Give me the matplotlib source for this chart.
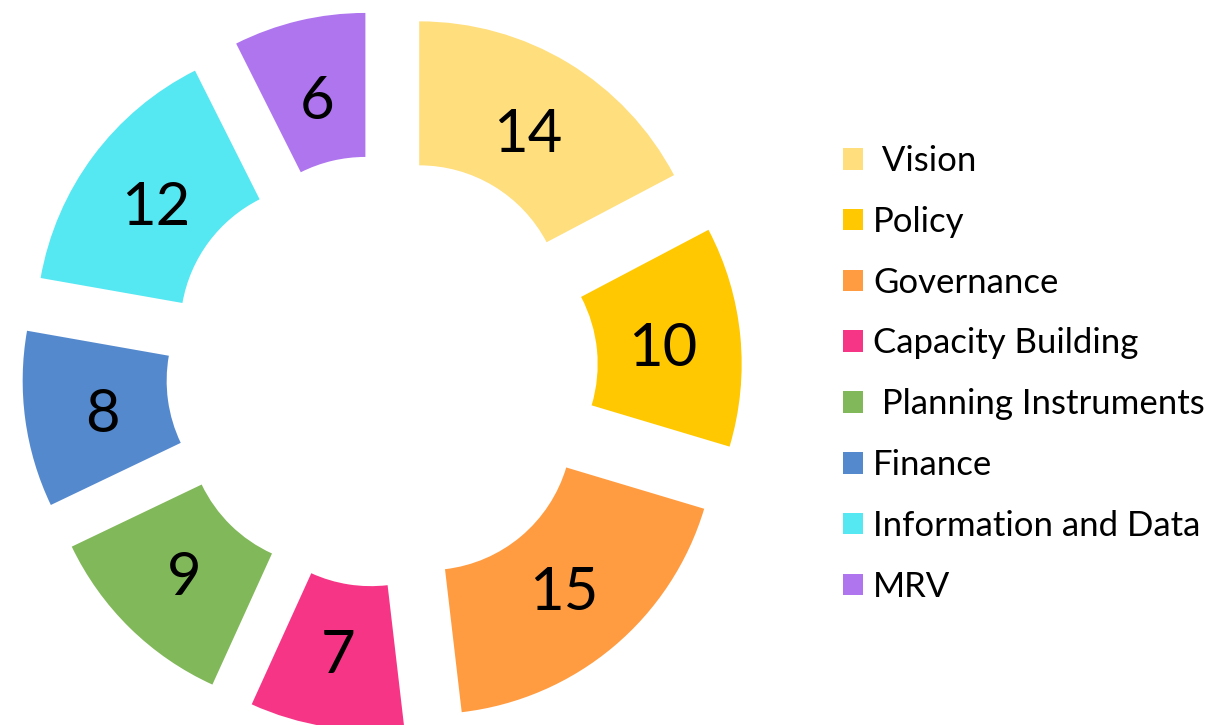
import matplotlib.pyplot as plt

# Datos del gráfico
categorias = [" Vision", "Policy", "Governance", "Capacity Building",
              " Planning Instruments", "Finance", "Information and Data", "MRV"]
valores = [14, 10, 15, 7, 9, 8, 12, 6]
colores = ["#FFDE7D", "#FFC800", "#FF9C41", "#F73586",
           "#81B85A", "#5589CE", "#55E7F2", "#AE75EF"]

plt.rcParams['font.family'] = ['Lato', 'DejaVu Sans']

W, H = 1205, 725
cx, cy, R = 382, 371, 288  # centro y radio en pixeles

fig = plt.figure(figsize=(W / 100, H / 100), dpi=100)
ax = fig.add_axes([0, 0, 1, 1])

wedges, _, textos = ax.pie(
    valores, colors=colores, startangle=90, counterclock=False,
    explode=[0.25] * len(valores), radius=1,
    wedgeprops=dict(width=0.5, linewidth=0),
    autopct=lambda p: f"{round(p * sum(valores) / 100)}",
    pctdistance=0.73, frame=True)
ax.set_xlim(-cx / R, (W - cx) / R)
ax.set_ylim((cy - H) / R, cy / R)
ax.set_aspect('auto')
ax.axis('off')

for t in textos:
    t.set_fontsize(43)
    t.set_color('black')
    x, y = t.get_position()
    t.set_position((x, y - 0.02))

ax.legend(wedges, categorias, loc='upper left', bbox_to_anchor=(843 / W, 1 - 145 / H),
          frameon=False, fontsize=25, handlelength=0.58, handleheight=0.58,
          handletextpad=0.29, labelspacing=0.83, borderpad=0, borderaxespad=0)

plt.savefig("out.png", dpi=100)
